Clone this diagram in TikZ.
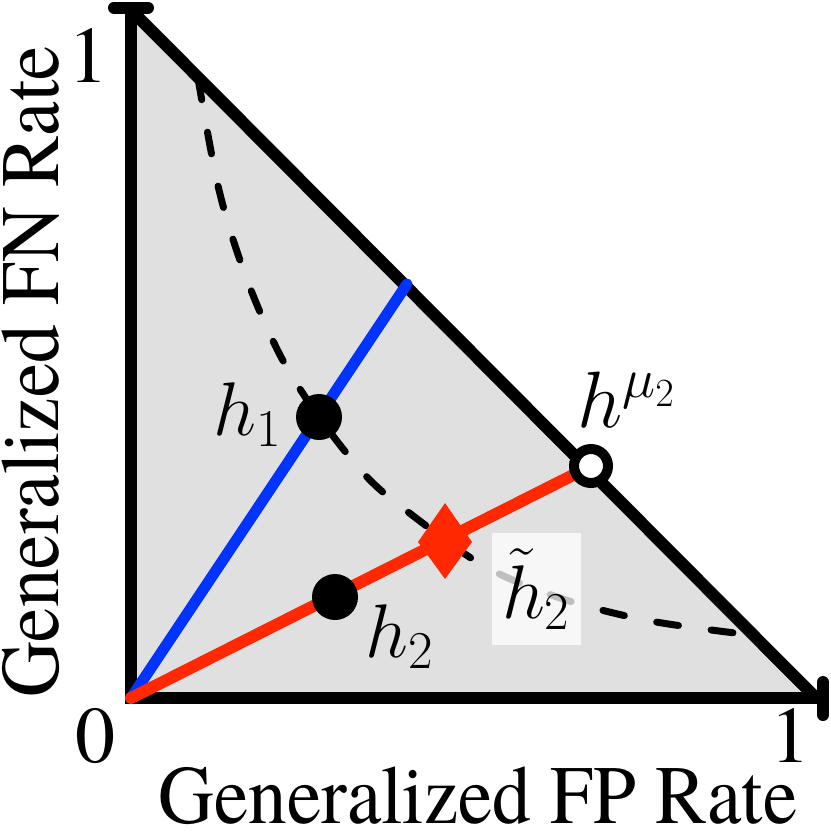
\documentclass[tikz,border=0pt]{standalone}
\usepackage{fix-cm}
\usepackage{graphicx}
\usepackage{fontspec}
\IfFontExistsTF{texgyretermes-regular.otf}%
  {\newfontfamily\timesfont{texgyretermes-regular.otf}}%
  {\let\timesfont\rmfamily}
\definecolor{bgray}{RGB}{224,224,224}
\definecolor{myblue}{RGB}{0,51,255}
\definecolor{myred}{RGB}{255,40,0}
\newcommand\hbig{\fontsize{76}{80}\selectfont}
\newcommand\tbig{\timesfont\fontsize{80}{86}\selectfont}
\newcommand\abig{\timesfont\fontsize{83}{90}\selectfont}
\begin{document}
\begin{tikzpicture}[x=1pt,y=-1pt,
  axisline/.style={line width=12pt, line join=miter},
  tickbar/.style={line width=12pt, line cap=round},
  dot/.style={circle, fill=black, minimum size=46pt, inner sep=0pt},
  ring/.style={circle, draw=black, fill=white, line width=10pt, minimum size=34pt, inner sep=0pt},
  mlabel/.style={font=\hbig, inner sep=0pt},
  numlabel/.style={font=\tbig, inner sep=0pt, anchor=base},
  axislabel/.style={font=\abig, inner sep=0pt, anchor=base},
  curve/.style={line width=7pt, line cap=round, dash pattern=on 22pt off 33pt},
  tildebox/.style={fill=white, fill opacity=0.75, text opacity=1, minimum width=89pt, minimum height=112pt, inner sep=0pt, font=\hbig}]
\useasboundingbox (0,0) rectangle (830,835);
% key points
\coordinate (O) at (131,698);
\coordinate (Y) at (131,10);
\coordinate (X) at (816,698);
\coordinate (Ye) at (131,7.5);
\coordinate (Xe) at (823,698);
\coordinate (B) at (407,284);
\coordinate (Pmu) at (591,466);
\coordinate (P1) at (319,417);
\coordinate (P2) at (335,597);
\coordinate (Ta) at (114,7.5);
\coordinate (Tb) at (148,7.5);
\coordinate (Tc) at (823,682);
\coordinate (Td) at (823,715);
% region
\fill[bgray] (O) -- (Y) -- (X) -- cycle;
% dashed curve
\draw[curve] plot[smooth, tension=0.55] coordinates {(198,78) (219,190) (246,277) (280,355) (319,417) (367,477) (412,515) (484,566) (560,598) (645,620) (735,633)};
% axes
\draw[axisline] (Ye) -- (O) -- (Xe);
\draw[axisline] (Y) -- (X);
\draw[tickbar] (Ta) -- (Tb);
\draw[tickbar] (Tc) -- (Td);
% coloured lines
\draw[myblue, line width=11pt, line cap=round] (O) -- (B);
\draw[myred, line width=12pt, line cap=round] (O) -- (Pmu);
% diamond marker
\fill[myred] (445,503) -- (472,542) -- (445,579) -- (418,542) -- cycle;
% points
\node[dot] (h1) at (P1) {};
\node[dot] (h2) at (P2) {};
\node[ring] (hmu) at (Pmu) {};
% labels
\node[mlabel, anchor=base west] (l1) at (213,435) {$h_1$};
\node[mlabel, anchor=base west] (l2) at (365,657) {$h_2$};
\node[mlabel, anchor=base west, font=\fontsize{80}{84}\selectfont] (lmu) at (577,427) {$h^{\mu_2}$};
\node[tildebox] (lt) at (536,589) {$\tilde{h}_2$};
% axis numbers
\node[numlabel] (n1) at (88,82) {1};
\node[numlabel] (n0) at (95,762) {0};
\node[numlabel] (n1x) at (790,762) {1};
% axis titles
\node[axislabel] (xl) at (478,823) {\scalebox{0.93}[1]{Generalized FP Rate}};
\node[axislabel, rotate=90] (yl) at (58,372) {\scalebox{0.93}[1]{Generalized FN Rate}};
\end{tikzpicture}
\end{document}
